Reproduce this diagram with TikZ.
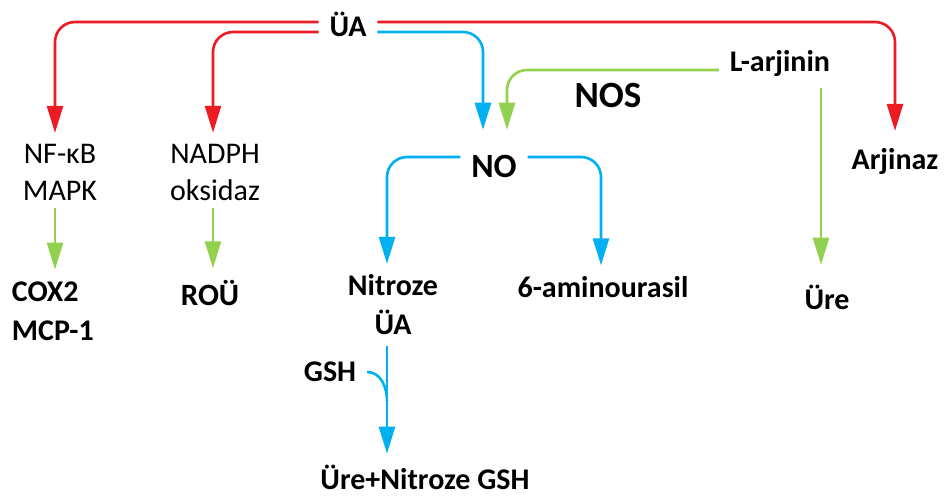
\documentclass[tikz,border=0pt]{standalone}
\usepackage{fontspec}
\setmainfont{Carlito}
\usepackage{xcolor}
\usetikzlibrary{arrows.meta}
\definecolor{uared}{RGB}{237,28,36}
\definecolor{noblue}{RGB}{0,176,240}
\definecolor{enzgreen}{RGB}{146,208,80}
\tikzset{
  lbl/.style={inner sep=0pt, outer sep=11pt, align=center,
    font=\fontsize{30}{39}\selectfont\bfseries},
  lblthin/.style={lbl, font=\fontsize{30}{37}\selectfont},
  arr/.style={-{Triangle[length=27pt,width=16pt]}, line width=2.6pt, rounded corners=20pt},
  rarr/.style={arr, color=uared},
  barr/.style={arr, color=noblue},
  garr/.style={arr, color=enzgreen},
}
\begin{document}
\begin{tikzpicture}[x=1pt, y=-1pt]
  \useasboundingbox (0,0) rectangle (945,499);
  % labels
  \node[lbl] (ua) at (348,24) {ÜA};
  \node[lblthin] (nfkb) at (60,172) {NF-κB\\MAPK};
  \node[lblthin] (nadph) at (215,172) {NADPH\\oksidaz};
  \node[lbl, anchor=west, align=left] (cox) at (1,311) {COX2\\MCP-1};
  \node[lbl, font=\fontsize{31}{38}\selectfont\bfseries] (rou) at (210,293) {ROÜ};
  \node[lbl, font=\fontsize{34}{40}\selectfont\bfseries] (no) at (494,166) {NO};
  \node[lbl, font=\fontsize{37}{44}\selectfont\bfseries] (nos) at (608,95) {NOS};
  \node[lbl] (larj) at (780,64) {L-arjinin};
  \node[lbl] (arj) at (895,162) {Arjinaz};
  \node[lbl] (ure) at (827,297) {Üre};
  \node[lbl] (nitua) at (393,305) {Nitroze\\ÜA};
  \node[lbl] (amino) at (603,287) {6-aminourasil};
  \node[lbl] (gsh) at (330,372) {GSH};
  \node[lbl] (final) at (425,477) {Üre+Nitroze GSH};
  % uric acid branches
  \draw[rarr] ([yshift=2pt]ua.west) -| ([xshift=-5pt]nfkb.north);
  \draw[rarr] ([yshift=-8pt]ua.west) -| ([xshift=-2pt]nadph.north);
  \draw[rarr] ([yshift=2pt]ua.east) -| ([yshift=7pt]arj.north);
  \draw[barr] ([yshift=-8pt]ua.east) -| ([xshift=-11pt,yshift=14pt]no.north);
  % L-arginine
  \draw[garr] ([yshift=-6pt]larj.west) -| ([xshift=13pt,yshift=14pt]no.north);
  \draw[garr] ([xshift=-6pt]ure.north |- larj.south) -- ([xshift=-6pt,yshift=9pt]ure.north);
  % downstream
  \draw[garr] ([xshift=-5pt,yshift=3pt]nfkb.south) -- ([xshift=-5pt,yshift=1pt]nfkb.south |- cox.north);
  \draw[garr] ([xshift=-2pt,yshift=3pt]nadph.south) -- ([xshift=-2pt,yshift=1pt]nadph.south |- rou.north);
  \draw[barr] ([yshift=9pt]no.west) -| ([xshift=-6pt]nitua.north);
  \draw[barr] ([yshift=9pt]no.east) -| ([xshift=-2pt]amino.north);
  \draw[barr] ([xshift=-6pt]nitua.south) -- ([xshift=-6pt]nitua.south |- final.north);
  \coordinate (join) at ([xshift=-6pt,yshift=-8pt]nitua.south |- gsh.south);
  \draw[noblue, line width=2.6pt] (gsh.east) to[out=0, in=90] (join);
\end{tikzpicture}
\end{document}
